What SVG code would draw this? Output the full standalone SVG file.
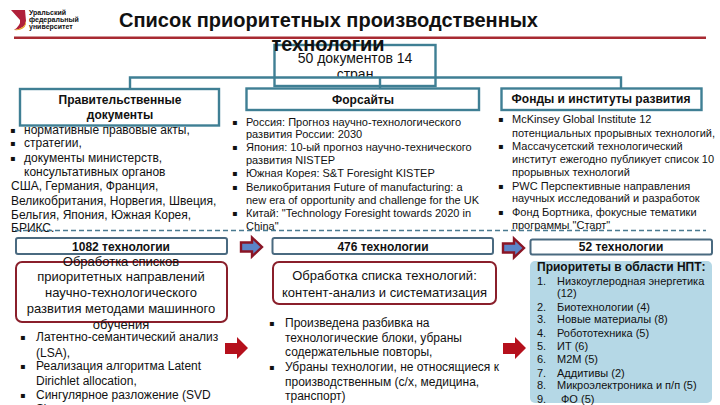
<svg xmlns="http://www.w3.org/2000/svg" width="720" height="405" viewBox="0 0 720 405">
<style>
text{font-family:"Liberation Sans",Arial,sans-serif;fill:#111}
.t{font-size:11px}
.l{font-size:12px}
.c{font-size:13px}
.h{font-size:12px;font-weight:bold}
.m{text-anchor:middle}
.b{font-size:8px;font-family:"DejaVu Sans",sans-serif}
.teal{fill:#fff;stroke:#3f7f94;stroke-width:2.400}
.slate{fill:#fff;stroke:#4a6a80;stroke-width:2}
.red{fill:#fff;stroke:#8a1f2b;stroke-width:2}
.conn{fill:none;stroke:#3f7f94;stroke-width:2.400}
.ab{fill:#5b85c8;stroke:#8a1525;stroke-width:2.400}
.ar{fill:#b5101c}
.tt{font-size:20px;font-weight:bold}
.lg{font-size:7px;font-weight:bold}
</style>
<defs><clipPath id="rootclip"><rect x="274" y="45" width="162" height="32"/></clipPath></defs>
<rect width="720" height="405" fill="#fff"/>
<g id="logo"><path d="M11 10L25 10L26 21Q25 29 14 30Q21 25 20 20Z" fill="#b0203a"/><path d="M14 30Q25 29 26 21L26 24Q24 31 14 30Z" fill="#e8a020"/>
<text x="29" y="15" class="lg">Уральский</text><text x="29" y="22" class="lg">федеральный</text><text x="29" y="29" class="lg">университет</text></g>
<g id="title"><rect x="14" y="36.500" width="692" height="2.500" fill="#a82a32"/>
<text x="119" y="27" class="tt">Список приоритетных производственных</text></g>
<g id="root"><rect x="274.500" y="45" width="161" height="41" fill="none" stroke="#3f7f94" stroke-width="2.400"/>
<text x="328" y="51" class="tt m">технологии</text>
<text x="355" y="63" class="m" style="font-size:14px">50 документов 14</text><text x="355" y="79" class="m" clip-path="url(#rootclip)" style="font-size:14px">стран</text></g>
<g id="connectors"><path class="conn" d="M130 88V77.500H621V88M380 77.500V88"/></g>
<g id="gov"><rect class="teal" x="20" y="89" width="199" height="36.500"/><text x="120" y="104" class="h m">Правительственные</text><text x="120" y="119" class="h m">документы</text>
<text x="10" y="133" class="b">▪</text><text x="24" y="134" class="l">нормативные правовые акты,</text>
<text x="10" y="146" class="b">▪</text><text x="24" y="147" class="l">стратегии,</text>
<text x="10" y="161" class="b">▪</text><text x="24" y="162" class="l">документы министерств,</text>
<text x="24" y="176" class="l">консультативных органов</text>
<text x="11" y="190" class="l">США, Германия, Франция,</text>
<text x="11" y="205" class="l">Великобритания, Норвегия, Швеция,</text>
<text x="11" y="219" class="l">Бельгия, Япония, Южная Корея,</text>
<text x="11" y="232" class="l">БРИКС.</text></g>
<g id="foresight"><rect class="teal" x="246.500" y="88.500" width="232.500" height="21.500"/><text x="363" y="104" class="h m">Форсайты</text>
<text x="232" y="125" class="b">▪</text><text x="246" y="126" class="t" textLength="215">Россия: Прогноз научно-технологического</text>
<text x="246" y="138" class="t">развития России: 2030</text>
<text x="232" y="150" class="b">▪</text><text x="246" y="151" class="t">Япония: 10-ый прогноз научно-технического</text>
<text x="246" y="164" class="t">развития NISTEP</text>
<text x="232" y="176" class="b">▪</text><text x="246" y="177" class="t">Южная Корея: S&amp;T Foresight KISTEP</text>
<text x="232" y="190" class="b">▪</text><text x="246" y="191" class="t">Великобритания Future of manufacturing: a</text>
<text x="246" y="204" class="t">new era of opportunity and challenge for the UK</text>
<text x="232" y="216" class="b">▪</text><text x="246" y="217" class="t">Китай: "Technology Foresight towards 2020 in</text>
<text x="246" y="230" class="t">China"</text></g>
<g id="funds"><rect class="teal" x="501.500" y="88.500" width="200" height="21.500"/><text x="601" y="103" class="h m">Фонды и институты развития</text>
<text x="498" y="122" class="b">▪</text><text x="512" y="123" class="t">McKinsey Global Institute 12</text>
<text x="512" y="137" class="t">потенциальных прорывных технологий,</text>
<text x="498" y="149" class="b">▪</text><text x="512" y="150" class="t">Массачусетский технологический</text>
<text x="512" y="163" class="t">институт ежегодно публикует список 10</text>
<text x="512" y="176" class="t">прорывных технологий</text>
<text x="498" y="189" class="b">▪</text><text x="512" y="190" class="t">PWC Перспективные направления</text>
<text x="512" y="202" class="t">научных исследований и разработок</text>
<text x="498" y="215" class="b">▪</text><text x="512" y="216" class="t">Фонд Бортника, фокусные тематики</text>
<text x="512" y="229" class="t">программы "Старт"</text></g>
<path d="M15 230.500H706" fill="none" stroke="#4a7a90" stroke-width="1.500" stroke-dasharray="5 3"/>
<g id="n1082"><rect class="slate" x="16" y="238" width="211" height="16" rx="2"/><text x="121" y="251" class="h m">1082 технологии</text></g>
<g id="n476"><rect class="slate" x="272.500" y="238" width="220.500" height="16" rx="2"/><text x="383" y="251" class="h m">476 технологии</text></g>
<g id="n52"><rect class="slate" x="530.500" y="239.500" width="181.500" height="15" rx="2"/><text x="621" y="251" class="h m">52 технологии</text></g>
<g id="arrowA"><path class="ab" d="M241 242.500H252V237.500L262 247L252 256.500V251.500H241Z"/></g>
<g id="arrowB"><path class="ab" d="M503 243.500H514V238.500L524 248L514 257.500V252.500H503Z"/></g>
<g id="ml"><rect class="red" x="16" y="262" width="211" height="60" rx="6"/>
<text x="121" y="266" class="c m">Обработка списков</text><text x="121" y="281" class="c m">приоритетных направлений</text><text x="121" y="297" class="c m">научно-технологического</text><text x="121" y="313" class="c m">развития методами машинного</text><text x="121" y="329" class="c m">обучения</text>
<text x="20" y="340" class="b">▪</text><text x="36" y="341" class="l">Латентно-семантический анализ</text>
<text x="36" y="357" class="l">(LSA),</text>
<text x="20" y="369" class="b">▪</text><text x="36" y="370" class="l">Реализация алгоритма Latent</text>
<text x="36" y="385" class="l">Dirichlet allocation,</text>
<text x="20" y="398" class="b">▪</text><text x="36" y="399" class="l">Сингулярное разложение (SVD</text>
<text x="36" y="413" class="l">S)</text></g>
<g id="content"><rect class="red" x="273" y="262" width="223" height="42" rx="6"/>
<text x="384.500" y="280" class="c m">Обработка списка технологий:</text><text x="384.500" y="296.500" class="c m">контент-анализ и систематизация</text>
<text x="269" y="326" class="b">▪</text><text x="285" y="327" class="l">Произведена разбивка на</text>
<text x="285" y="342" class="l">технологические блоки, убраны</text>
<text x="285" y="356" class="l">содержательные повторы,</text>
<text x="269" y="370" class="b">▪</text><text x="285" y="371" class="l">Убраны технологии, не относящиеся к</text>
<text x="285" y="386" class="l">производственным (с/х, медицина,</text>
<text x="285" y="400" class="l">транспорт)</text></g>
<g id="arrowC"><path class="ar" d="M225 343H237V337L248 348L237 359V354H225Z"/></g>
<g id="arrowD"><path class="ar" d="M503 343H515V337L526 348L515 359V354H503Z"/></g>
<g id="priorities"><rect x="530" y="261" width="182" height="142" rx="5" fill="#b5d8e6"/>
<text x="537" y="271" style="font-size:12px;font-weight:bold">Приоритеты в области НПТ:</text>
<text x="537" y="285" class="t">1.</text><text x="557" y="285" class="t">Низкоуглеродная энергетика</text>
<text x="557" y="297" class="t">(12)</text>
<text x="537" y="311" class="t">2.</text><text x="557" y="311" class="t">Биотехнологии (4)</text>
<text x="537" y="323" class="t">3.</text><text x="557" y="323" class="t">Новые материалы (8)</text>
<text x="537" y="337" class="t">4.</text><text x="557" y="337" class="t">Робототехника (5)</text>
<text x="537" y="350" class="t">5.</text><text x="557" y="350" class="t">ИТ (6)</text>
<text x="537" y="363" class="t">6.</text><text x="557" y="363" class="t">М2М (5)</text>
<text x="537" y="377" class="t">7.</text><text x="557" y="377" class="t">Аддитивы (2)</text>
<text x="537" y="389" class="t">8.</text><text x="557" y="389" class="t">Микроэлектроника и п/п (5)</text>
<text x="537" y="403" class="t">9.</text><text x="561" y="403" class="t">ФО (5)</text></g>
</svg>
